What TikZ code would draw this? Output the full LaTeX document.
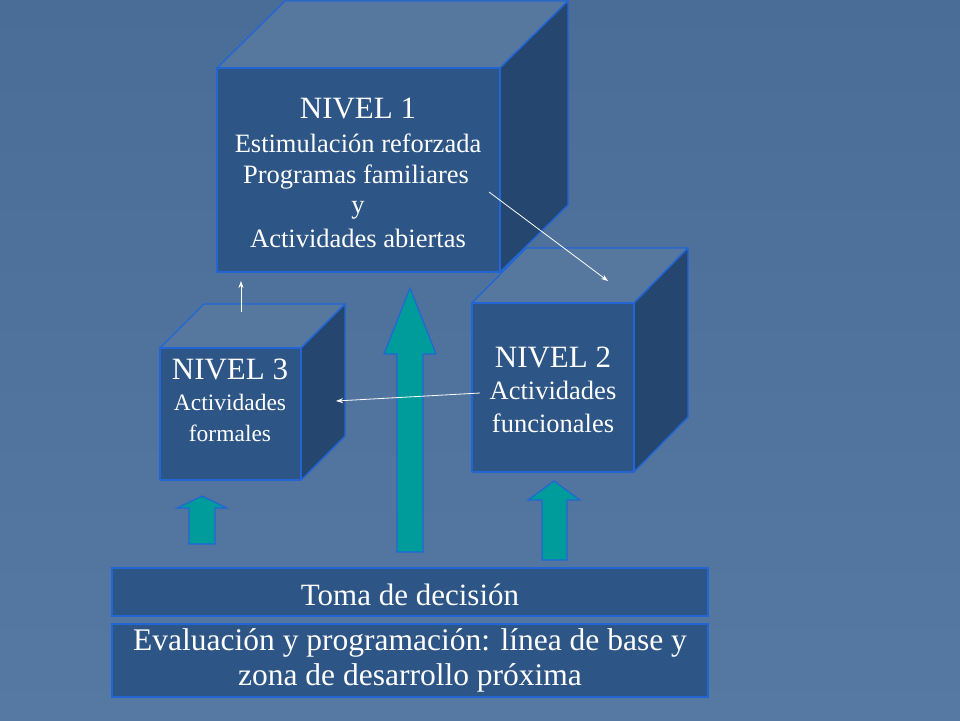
\documentclass[tikz,border=0pt]{standalone}
\usepackage{fontspec}
\setmainfont{Liberation Serif}
\usetikzlibrary{arrows.meta}
\definecolor{bgtop}{HTML}{4A6D97}
\definecolor{bgmid}{HTML}{5B80AB}
\definecolor{bgbot}{HTML}{5679A4}
\definecolor{frontc}{HTML}{2D5585}
\definecolor{topc}{HTML}{56789F}
\definecolor{sidec}{HTML}{24466F}
\definecolor{edgec}{HTML}{2266D6}
\definecolor{tealc}{HTML}{009C9C}
\tikzset{
  face/.style={draw=edgec, line width=1.4pt, line join=round},
  frontface/.style={face, fill=frontc},
  topface/.style={face, fill=topc},
  sideface/.style={face, fill=sidec},
  bigarrow/.style={draw=edgec, line width=1.2pt, fill=tealc, line join=miter},
  bar/.style={draw=edgec, line width=1.4pt, fill=frontc},
  txt/.style={text=white, anchor=base, inner sep=0pt},
  thin/.style={white, line width=0.8pt, -{Stealth[length=7pt,width=5pt]}}
}
\begin{document}
\begin{tikzpicture}[x=1pt,y=-1pt]
\useasboundingbox (0,0) rectangle (960,720);
\shade[top color=bgtop, middle color=bgmid, bottom color=bgbot] (0,0) rectangle (960,720);

% Cube 1
\fill[topface] (217,68) -- (285,1) -- (568,1) -- (500,68) -- cycle;
\fill[sideface] (500,68) -- (568,1) -- (568,205) -- (500,272) -- cycle;
\draw[frontface] (217,68) rectangle (500,272);
\node (n1) at (358.5,170) [minimum width=283pt, minimum height=204pt, inner sep=0pt] {};
\node[txt, font=\fontsize{31}{36}\selectfont] (n1a) at (358,118) {NIVEL 1};
\node[txt, font=\fontsize{26.5}{30}\selectfont] (n1b) at (358,152) {Estimulación reforzada};
\node[txt, font=\fontsize{26.5}{30}\selectfont] (n1c) at (356,183) {Programas familiares};
\node[txt, font=\fontsize{26.5}{30}\selectfont] (n1d) at (358,213) {y};
\node[txt, font=\fontsize{26.5}{30}\selectfont] (n1e) at (358,247) {Actividades abiertas};

% Cube 2
\fill[topface] (472,303) -- (526,248) -- (688,248) -- (634,303) -- cycle;
\fill[sideface] (634,303) -- (688,248) -- (688,417) -- (634,472) -- cycle;
\draw[frontface] (472,303) rectangle (634,472);
\node (n2) at (553,387.5) [minimum width=162pt, minimum height=169pt, inner sep=0pt] {};
\node[txt, font=\fontsize{31}{36}\selectfont] (n2a) at (553,367) {NIVEL 2};
\node[txt, font=\fontsize{26.5}{30}\selectfont] (n2b) at (553,399) {Actividades};
\node[txt, font=\fontsize{26.5}{30}\selectfont] (n2c) at (553,432) {funcionales};

% Cube 3
\fill[topface] (160,348) -- (204,304) -- (345,304) -- (301,348) -- cycle;
\fill[sideface] (301,348) -- (345,304) -- (345,436) -- (301,480) -- cycle;
\draw[frontface] (160,348) rectangle (301,480);
\node (n3) at (230.5,414) [minimum width=141pt, minimum height=132pt, inner sep=0pt] {};
\node[txt, font=\fontsize{31}{36}\selectfont] (n3a) at (230,379) {NIVEL 3};
\node[txt, font=\fontsize{23.5}{28}\selectfont] (n3b) at (230,410) {Actividades};
\node[txt, font=\fontsize{23.5}{28}\selectfont] (n3c) at (230,441) {formales};

% Teal arrows
\draw[bigarrow] (189,544) -- (189,508) -- (177,508) -- (202,496) -- (227,508) -- (215,508) -- (215,544) -- cycle;
\draw[bigarrow] (397,552) -- (397,354) -- (384,354) -- (410,288) -- (436,354) -- (423,354) -- (423,552) -- cycle;
\draw[bigarrow] (542,560) -- (542,500) -- (528,500) -- (554,481) -- (580,500) -- (567,500) -- (567,560) -- cycle;

% Bars
\node[bar, minimum width=596pt, minimum height=48pt, inner sep=0pt] (toma) at (410,592) {};
\node[txt, font=\fontsize{31}{36}\selectfont] (tomat) at (410,605) {Toma de decisión};
\node[bar, minimum width=596pt, minimum height=73pt, inner sep=0pt] (eval) at (410,660.5) {};
\node[txt, font=\fontsize{31.5}{36}\selectfont] (evala) at (410,650) {Evaluación y programación: línea de base y};
\node[txt, font=\fontsize{31.5}{36}\selectfont] (evalb) at (410,685) {zona de desarrollo próxima};

% White thin arrows
\coordinate (a1s) at (241,312);
\coordinate (a1e) at (241,281);
\coordinate (a2s) at (489,192);
\coordinate (a2e) at (608,281);
\coordinate (a3s) at (480,393);
\coordinate (a3e) at (336,401);
\draw[thin] (a1s) -- (a1e);
\draw[thin] (a2s) -- (a2e);
\draw[thin] (a3s) -- (a3e);
\end{tikzpicture}
\end{document}
